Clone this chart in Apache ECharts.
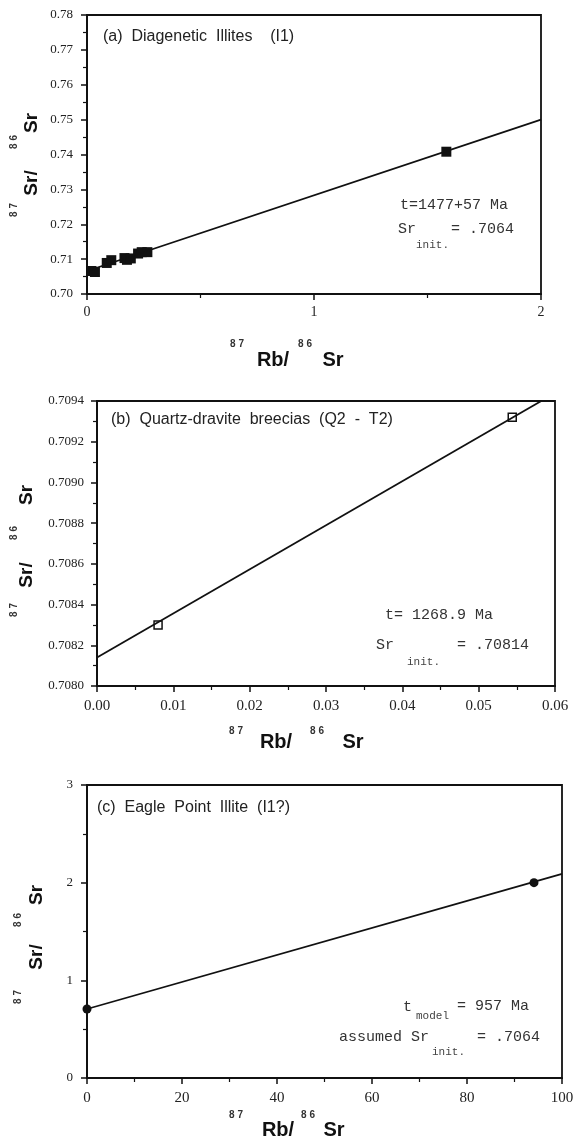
<!DOCTYPE html>
<html>
<head>
<meta charset="utf-8">
<script src="https://cdn.jsdelivr.net/npm/echarts@6/dist/echarts.min.js"></script>
<style>
  html, body { margin: 0; padding: 0; background: #fff; }
  #chart { width: 578px; height: 1140px; }
</style>
</head>
<body>
<div id="chart"></div>
<script>
// (a) diagenetic illites
var aRb = [0.02, 0.035, 0.087, 0.107, 0.165, 0.176, 0.193, 0.225, 0.241, 0.266, 1.583];
var aSr = [0.7066, 0.7063, 0.7089, 0.7097, 0.7103, 0.7098, 0.7102, 0.7116, 0.7120, 0.7120, 0.7408];
var aLineRb = [0, 2];
var aLineSr = [0.7066, 0.7500];
// (b) quartz-dravite breccias
var bRb = [0.008, 0.0544];
var bSr = [0.70830, 0.70932];
var bLineRb = [0, 0.0582];
var bLineSr = [0.70814, 0.70940];
// (c) eagle point illite
var cRb = [0, 94.1];
var cSr = [0.7064, 2.0];
var cLineRb = [0, 100];
var cLineSr = [0.7064, 2.09];

function pairs(xs, ys) {
  var out = [];
  for (var i = 0; i < xs.length; i++) out.push([xs[i], ys[i]]);
  return out;
}

var serif = '"Liberation Serif", "DejaVu Serif", serif';
var sans = '"Liberation Sans", Arial, sans-serif';
var mono = '"Liberation Mono", "DejaVu Sans Mono", monospace';
var ink = '#111';

function fmt(digits) {
  return function (v) { return digits == null ? String(Math.round(v)) : v.toFixed(digits); };
}
function xAx(grid, min, max, interval, digits, size, margin) {
  return {
    type: 'value', gridIndex: grid, min: min, max: max, interval: interval,
    axisLine: { lineStyle: { color: ink, width: 2 } },
    axisTick: { length: 6, lineStyle: { color: ink, width: 1.5 } },
    minorTick: { show: true, splitNumber: 2, length: 4, lineStyle: { color: ink, width: 1.2 } },
    splitLine: { show: false },
    axisLabel: { margin: margin, color: '#222', fontFamily: serif, fontSize: size, formatter: fmt(digits) }
  };
}
function yAx(grid, min, max, interval, digits, margin) {
  return {
    type: 'value', gridIndex: grid, min: min, max: max, interval: interval,
    axisLine: { lineStyle: { color: ink, width: 2 } },
    axisTick: { length: 6, lineStyle: { color: ink, width: 1.5 } },
    minorTick: { show: true, splitNumber: 2, length: 4, lineStyle: { color: ink, width: 1.2 } },
    splitLine: { show: false },
    axisLabel: { margin: margin, color: '#222', fontFamily: serif, fontSize: 13, formatter: fmt(digits) }
  };
}

function txt(x, y, s, font, opts) {
  opts = opts || {};
  return {
    type: 'text', x: x, y: y, rotation: opts.rot || 0, silent: true,
    style: {
      text: s, font: font, fill: opts.fill || ink,
      textAlign: opts.align || 'left', textVerticalAlign: 'middle'
    }
  };
}
// axis titles  87Sr/86Sr  (rotated) and 87Rb/86Sr
function yTitle(xBig, xSup, ySup87, ySrSlash, ySup86, ySr) {
  var r = Math.PI / 2;
  return [
    txt(xSup, ySup87, '8 7', 'bold 10px ' + sans, { rot: r, align: 'center', fill: '#333' }),
    txt(xBig, ySrSlash, 'Sr/', 'bold 19px ' + sans, { rot: r, align: 'center' }),
    txt(xSup, ySup86, '8 6', 'bold 10px ' + sans, { rot: r, align: 'center', fill: '#333' }),
    txt(xBig, ySr, 'Sr', 'bold 19px ' + sans, { rot: r, align: 'center' })
  ];
}
function xTitle(x87, xRb, x86, xSr, ySup, yBig) {
  return [
    txt(x87, ySup, '8 7', 'bold 10px ' + sans, { align: 'center', fill: '#333' }),
    txt(xRb, yBig, 'Rb/', 'bold 20px ' + sans, { align: 'center' }),
    txt(x86, ySup, '8 6', 'bold 10px ' + sans, { align: 'center', fill: '#333' }),
    txt(xSr, yBig, 'Sr', 'bold 20px ' + sans, { align: 'center' })
  ];
}

var graphics = [].concat(
  // panel a
  [txt(103, 37, '(a)  Diagenetic  Illites    (I1)', '16px ' + sans, { fill: '#222' }),
   txt(400, 205, 't=1477+57 Ma', '15px ' + mono, { fill: '#333' }),
   txt(398, 229, 'Sr', '15px ' + mono, { fill: '#333' }),
   txt(451, 229, '= .7064', '15px ' + mono, { fill: '#333' }),
   txt(416, 245, 'init.', '11px ' + mono, { fill: '#444' })],
  yTitle(32, 14, 210, 183, 142, 123),
  xTitle(237, 273, 305, 333, 344, 360),
  // panel b
  [txt(111, 420, '(b)  Quartz-dravite  breecias  (Q2  -  T2)', '16px ' + sans, { fill: '#222' }),
   txt(385, 615, 't= 1268.9 Ma', '15px ' + mono, { fill: '#333' }),
   txt(376, 645, 'Sr', '15px ' + mono, { fill: '#333' }),
   txt(457, 645, '= .70814', '15px ' + mono, { fill: '#333' }),
   txt(407, 662, 'init.', '11px ' + mono, { fill: '#444' })],
  yTitle(27, 14, 610, 575, 533, 495),
  xTitle(236, 276, 317, 353, 731, 742),
  // panel c
  [txt(97, 808, '(c)  Eagle  Point  Illite  (I1?)', '16px ' + sans, { fill: '#222' }),
   txt(403, 1007, 't', '15px ' + mono, { fill: '#333' }),
   txt(416, 1016, 'model', '11px ' + mono, { fill: '#444' }),
   txt(457, 1006, '= 957 Ma', '15px ' + mono, { fill: '#333' }),
   txt(339, 1037, 'assumed Sr', '15px ' + mono, { fill: '#333' }),
   txt(432, 1052, 'init.', '11px ' + mono, { fill: '#444' }),
   txt(477, 1037, '= .7064', '15px ' + mono, { fill: '#333' })],
  yTitle(37, 18, 997, 957, 920, 895),
  xTitle(236, 278, 308, 334, 1115, 1130)
);

var chart = echarts.init(document.getElementById('chart'), null, { renderer: 'canvas' });
chart.setOption({
  backgroundColor: '#fff',
  animation: false,
  grid: [
    { left: 87, top: 15, width: 454, height: 279, show: true, borderColor: ink, borderWidth: 1.8 },
    { left: 97, top: 401, width: 458, height: 285, show: true, borderColor: ink, borderWidth: 1.8 },
    { left: 87, top: 785, width: 475, height: 293, show: true, borderColor: ink, borderWidth: 1.8 }
  ],
  xAxis: [
    xAx(0, 0, 2, 1, null, 14, 11),
    xAx(1, 0, 0.06, 0.01, 2, 15, 13),
    xAx(2, 0, 100, 20, null, 15, 13)
  ],
  yAxis: [
    yAx(0, 0.70, 0.78, 0.01, 2, 14),
    yAx(1, 0.7080, 0.7094, 0.0002, 4, 13),
    yAx(2, 0, 3, 1, null, 14)
  ],
  series: [
    { type: 'line', xAxisIndex: 0, yAxisIndex: 0, data: pairs(aLineRb, aLineSr), showSymbol: false,
      lineStyle: { color: ink, width: 1.8 } },
    { type: 'scatter', xAxisIndex: 0, yAxisIndex: 0, data: pairs(aRb, aSr), symbol: 'rect', symbolSize: 10,
      itemStyle: { color: ink, opacity: 1 } },
    { type: 'line', xAxisIndex: 1, yAxisIndex: 1, data: pairs(bLineRb, bLineSr), showSymbol: false,
      lineStyle: { color: ink, width: 1.8 } },
    { type: 'scatter', xAxisIndex: 1, yAxisIndex: 1, data: pairs(bRb, bSr), symbol: 'rect', symbolSize: 8,
      itemStyle: { color: '#fff', borderColor: ink, borderWidth: 1.5, opacity: 1 } },
    { type: 'line', xAxisIndex: 2, yAxisIndex: 2, data: pairs(cLineRb, cLineSr), showSymbol: false,
      lineStyle: { color: ink, width: 1.8 } },
    { type: 'scatter', xAxisIndex: 2, yAxisIndex: 2, data: pairs(cRb, cSr), symbol: 'circle', symbolSize: 9,
      itemStyle: { color: ink, opacity: 1 } }
  ],
  graphic: graphics
});
</script>
</body>
</html>
